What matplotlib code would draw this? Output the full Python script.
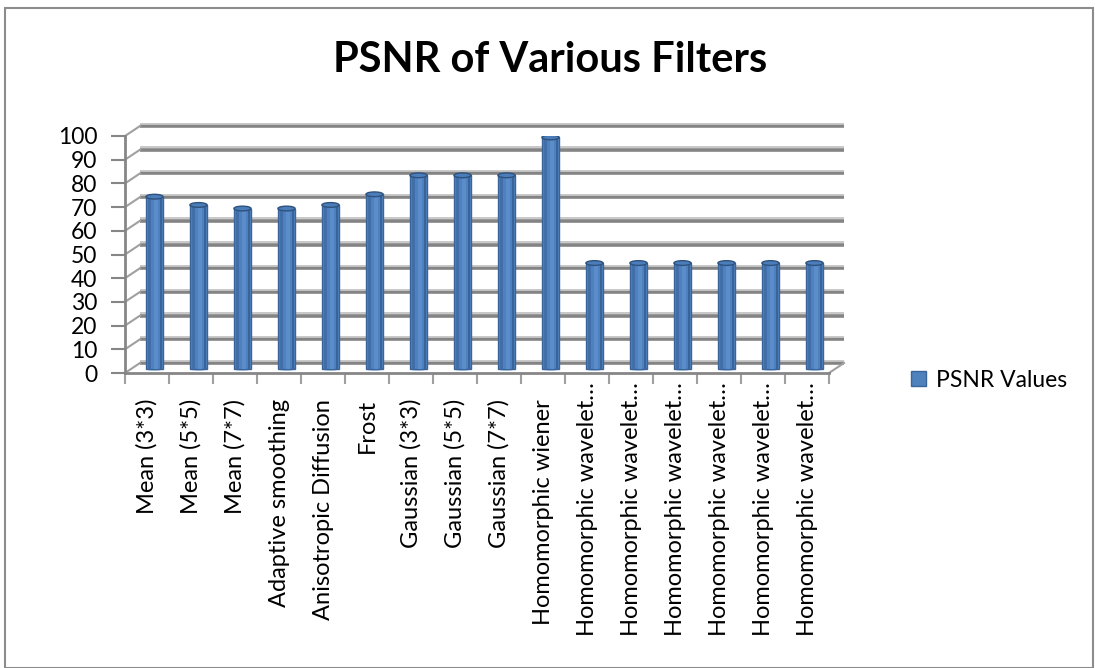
import matplotlib.pyplot as plt
from matplotlib.patches import Ellipse, Rectangle
from matplotlib.transforms import offset_copy

# data
filters = ["Mean (3*3)", "Mean (5*5)", "Mean (7*7)", "Adaptive smoothing",
           "Anisotropic Diffusion", "Frost", "Gaussian (3*3)", "Gaussian (5*5)",
           "Gaussian (7*7)", "Homomorphic wiener"] + ["Homomorphic wavelet\u2026"] * 6
psnr = [72.5, 69, 67.5, 67.5, 69, 73.5, 81.5, 81.5, 81.5, 97.5,
        44.5, 44.5, 44.5, 44.5, 44.5, 44.5]
yticks = list(range(0, 101, 10))

plt.rcParams['font.family'] = ['Lato', 'DejaVu Sans']

W, H = 1095, 668
fig = plt.figure(figsize=(W / 100, H / 100), dpi=100)
ax = fig.add_axes([125 / W, 1 - 373 / H, 704 / W, 237 / H])
ax.set_xlim(-0.5, 15.5)
ax.set_ylim(0, 100)

# fake 3d depth offsets (data units)
xu, yu = 704 / 16, 237 / 100
BX, BY = 15 / xu, 10 / yu     # back wall
MX, MY = 7.5 / xu, 4.5 / yu   # bars sit half way

x = list(range(len(psnr)))

# back wall gridlines + connectors
for v in yticks:
    ax.plot([-0.5 + BX, 15.5 + BX], [v + BY, v + BY], color='#848484', lw=2.6,
            clip_on=False, zorder=1, solid_capstyle='butt')
    ax.plot([-0.5 + BX, 15.5 + BX], [v + BY + 1.0, v + BY + 1.0], color='#c4c4c4',
            lw=1.3, clip_on=False, zorder=1, solid_capstyle='butt')
    ax.plot([-0.5, -0.5 + BX], [v, v + BY], color='#a0a0a0', lw=1.5,
            clip_on=False, zorder=1)
ax.plot([15.5, 15.5 + BX], [0, BY], color='#a0a0a0', lw=1.5, clip_on=False, zorder=1)

# cylinders
xm = [i + MX for i in x]
bw = 0.39
for xi in xm:
    ax.add_patch(Ellipse((xi, MY), bw, 2.0, fc='#9dbce3', ec='none', zorder=2))
bars = ax.bar(xm, psnr, width=bw, bottom=MY, color='#4F81BD', edgecolor='#3b659a',
              lw=1, zorder=3, label='PSNR Values')
ax.bar([xi - 0.115 for xi in xm], psnr, width=0.06, bottom=MY, color='#3f6ea8',
       lw=0, zorder=4)
ax.bar([xi + 0.03 for xi in xm], psnr, width=0.10, bottom=MY, color='#5b8ccb',
       lw=0, zorder=4)
ax.bar([xi + 0.14 for xi in xm], psnr, width=0.05, bottom=MY, color='#3a6499',
       lw=0, zorder=4)
for xi, v in zip(xm, psnr):
    ax.add_patch(Ellipse((xi, v + MY), bw, 2.0, fc='#4a7dba', ec='#2f527d',
                         lw=1, zorder=5))

# axes
for s in ['top', 'right']:
    ax.spines[s].set_visible(False)
for s in ['left', 'bottom']:
    ax.spines[s].set_color('#868686')
    ax.spines[s].set_linewidth(2)
ax.spines['left'].set_zorder(6)
ax.set_yticks(yticks)
ax.set_yticklabels([str(v) for v in yticks], fontsize=16.5)
ax.tick_params(axis='y', length=10, width=1.5, color='#868686', pad=10)
ax.set_xticks([i - 0.5 for i in range(len(psnr) + 1)])
ax.set_xticklabels([])
ax.tick_params(axis='x', length=8, width=1.5, color='#a0a0a0')
ax.patch.set_visible(False)

# category labels (truncated ones sit a bit higher, like excel does)
for i, name in zip(x, filters):
    gap = 9 if name.endswith('\u2026') else 26
    tr = offset_copy(ax.get_xaxis_transform(), fig=fig, y=-gap, units='dots')
    ax.text(i, 0, name, transform=tr, rotation=90, fontsize=17,
            ha='center', va='top', rotation_mode='default')

fig.text(550 / W, 1 - 60 / H, "PSNR of Various Filters", fontsize=30,
         fontweight='bold', ha='center', va='center')

ax.legend(handles=[bars], loc='center left', bbox_to_anchor=(890 / W, 1 - 380 / H),
          bbox_transform=fig.transFigure, frameon=False, fontsize=16.5,
          handlelength=0.65, handleheight=0.65, handletextpad=0.45)

fig.patches.append(Rectangle((5 / W, 0), 1088 / W, 1 - 8 / H, transform=fig.transFigure,
                             fill=False, ec='#8c8c8c', lw=1.5))

fig.savefig('out.png', dpi=100)
